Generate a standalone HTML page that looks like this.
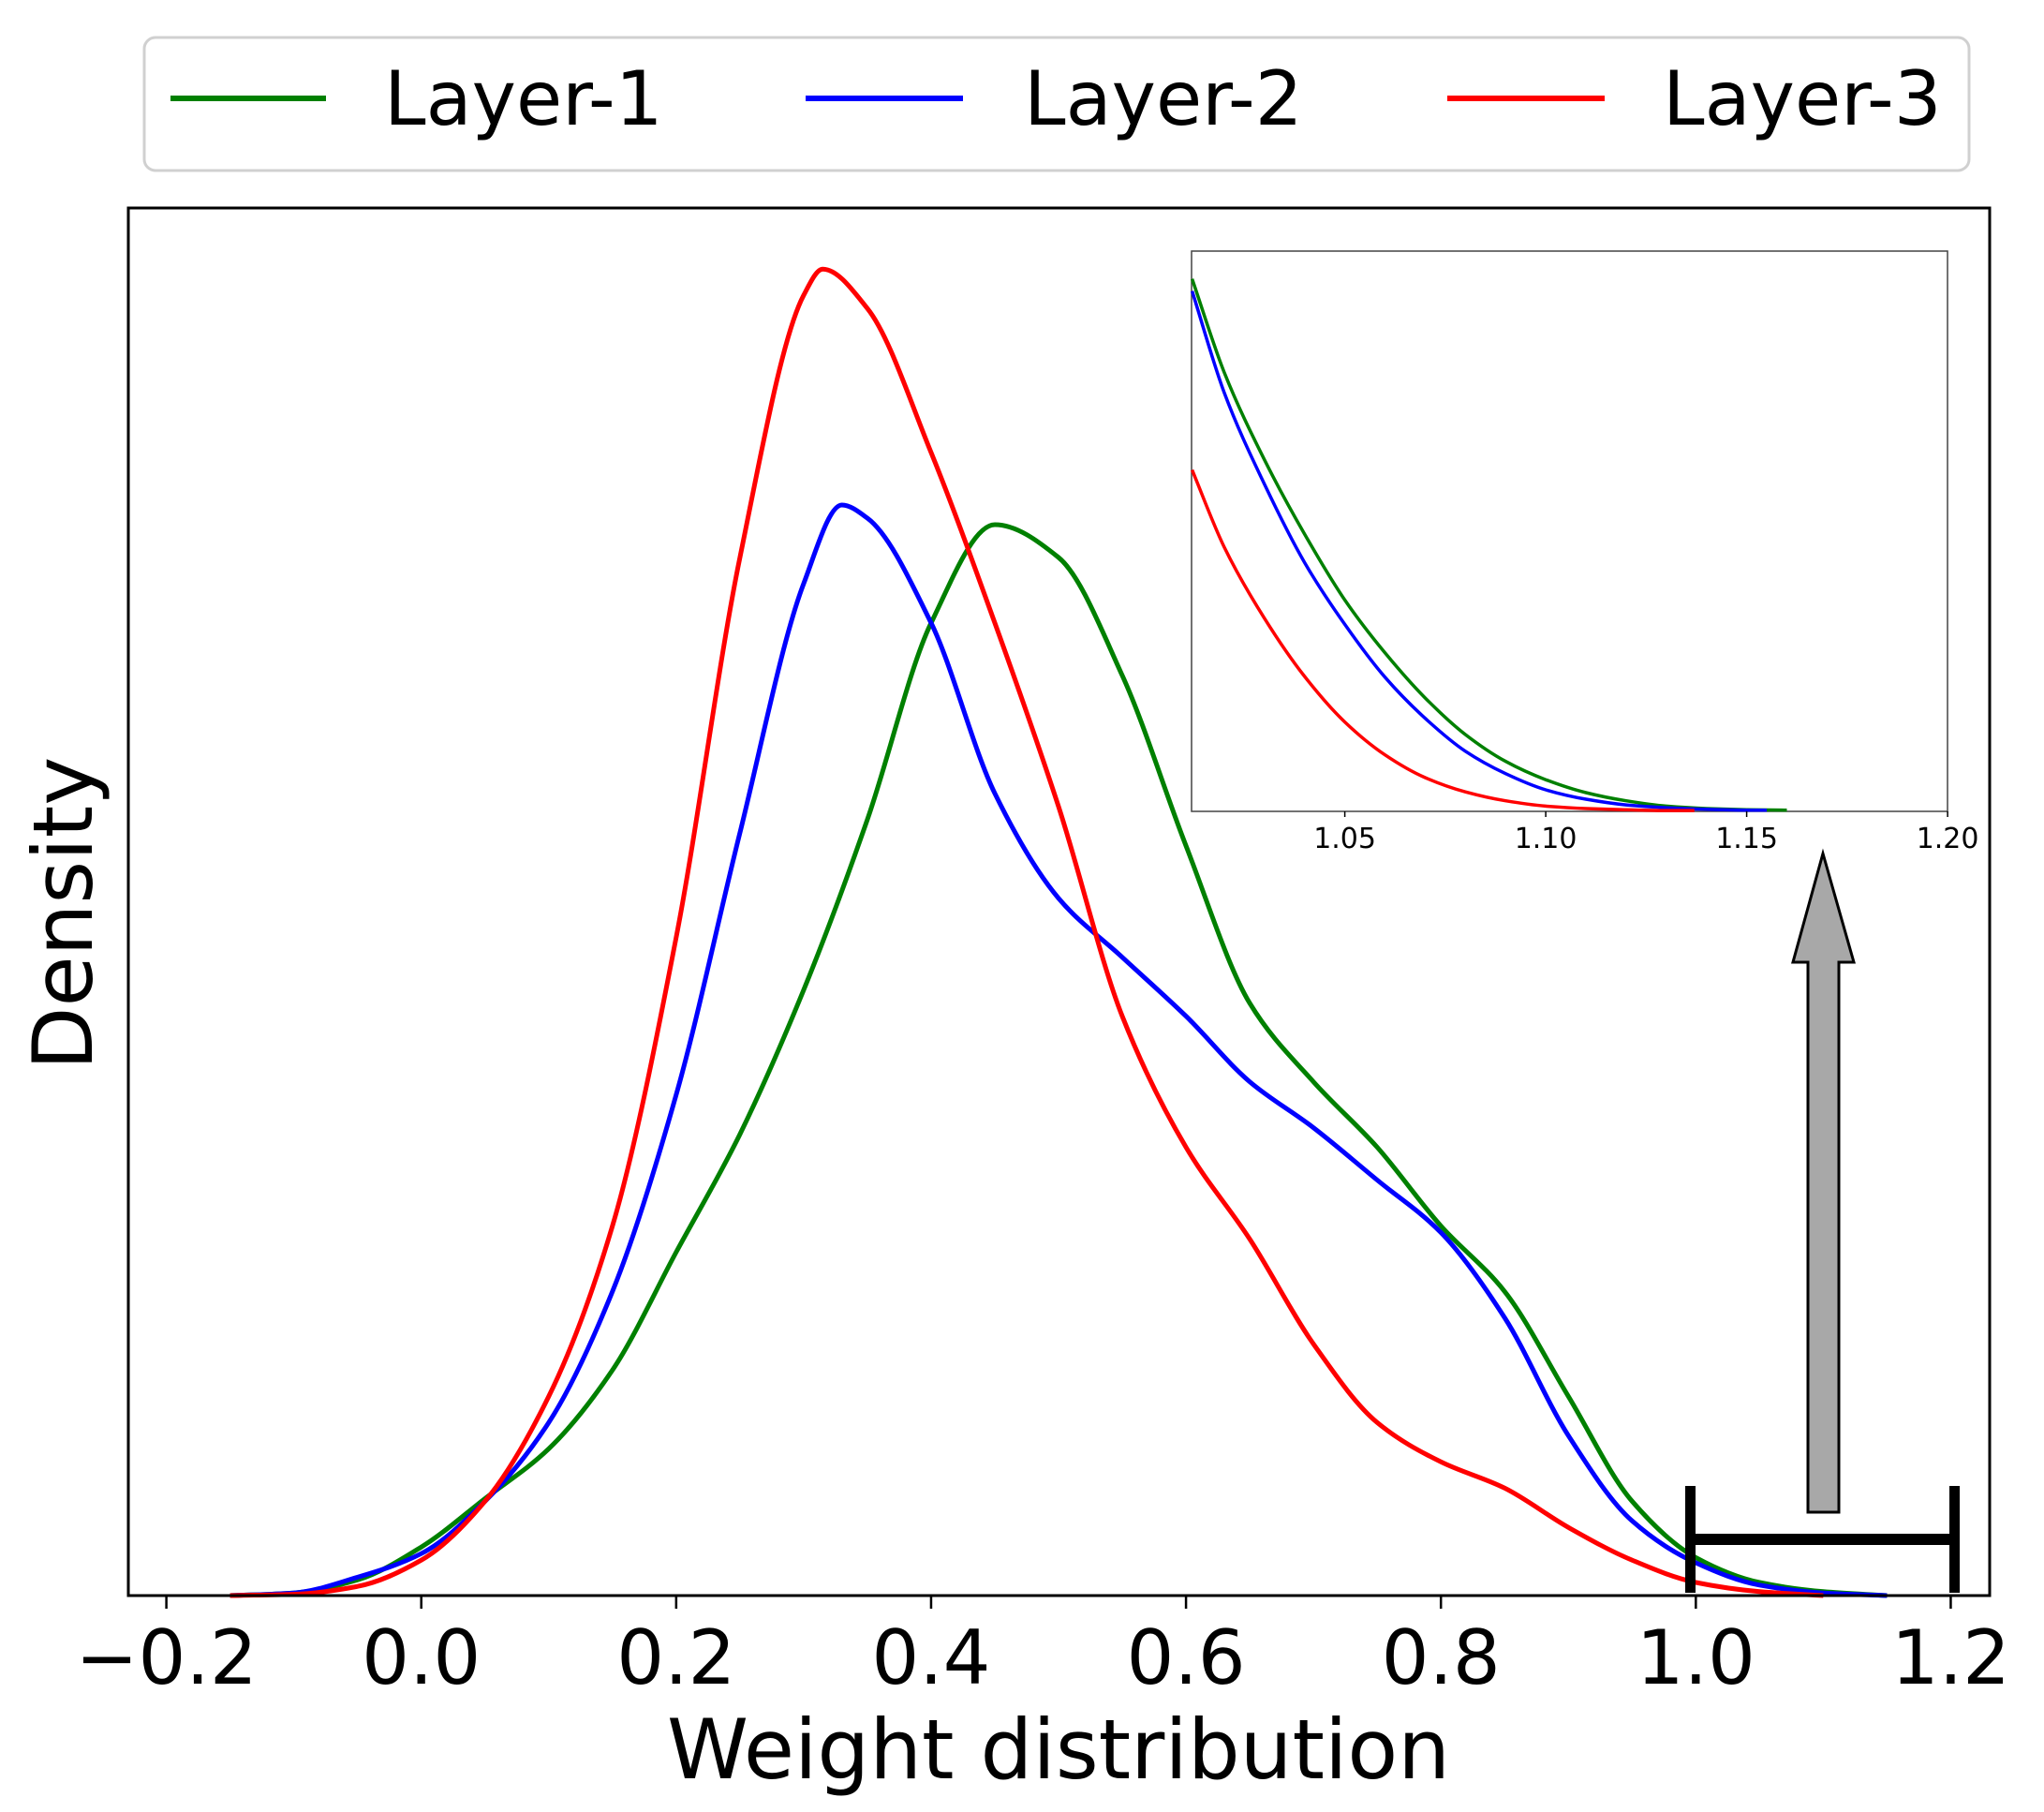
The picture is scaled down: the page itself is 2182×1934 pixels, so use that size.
<!DOCTYPE html>
<html><head><meta charset="utf-8"><style>
html,body{margin:0;padding:0;background:#fff;}
svg{display:block;font-family:"DejaVu Sans","Liberation Sans",sans-serif;}
</style></head><body>
<svg id="chart" width="2182" height="1934" viewBox="0 0 2182 1934" xmlns="http://www.w3.org/2000/svg">
<rect x="0" y="0" width="2182" height="1934" fill="#fff"/>
<g>
 <rect x="154" y="40" width="1948" height="142" rx="12" fill="#fff" stroke="#d0d0d0" stroke-width="3"/>
 <g><line x1="182" y1="105" x2="348" y2="105" stroke="#008000" stroke-width="6"/><text x="410" y="133" font-size="80">Layer-1</text></g>
 <g><line x1="860" y1="105" x2="1028" y2="105" stroke="#0000ff" stroke-width="6"/><text x="1093" y="133" font-size="80">Layer-2</text></g>
 <g><line x1="1545" y1="105" x2="1713" y2="105" stroke="#ff0000" stroke-width="6"/><text x="1775" y="133" font-size="80">Layer-3</text></g>
</g>
<g id="main"></g>
<rect x="137" y="222" width="1987" height="1481" fill="none" stroke="#000" stroke-width="3"/>
<g id="xticks"></g>
<text x="1130" y="1898" font-size="88" text-anchor="middle">Weight distribution</text>
<text transform="translate(98,975) rotate(-90)" font-size="88" text-anchor="middle">Density</text>
<g id="inset"></g>
<g>
 <rect x="1799" y="1586" width="11" height="114" fill="#000"/>
 <rect x="2081" y="1586" width="11" height="114" fill="#000"/>
 <rect x="1804" y="1637" width="283" height="12" fill="#000"/>
</g>
<polygon points="1946,911 1979,1027 1963,1027 1963,1614 1930,1614 1930,1027 1914,1027" fill="#a8a8a8" stroke="#000" stroke-width="3"/>
</svg>
<script>
// Main chart data
const xTickVals=[-0.2,0.0,0.2,0.4,0.6,0.8,1.0,1.2];
const xTickLabels=["\u22120.2","0.0","0.2","0.4","0.6","0.8","1.0","1.2"];
const layer1X=[-0.15,-0.1,-0.05,0,0.05,0.1,0.15,0.2,0.25,0.3,0.35,0.4,0.45,0.5,0.55,0.6,0.65,0.7,0.75,0.8,0.85,0.9,0.95,1.0,1.05,1.1,1.15];
const layer1Y=[0,0.02,0.12,0.37,0.74,1.12,1.72,2.62,3.52,4.62,5.92,7.42,8.17,7.92,7.02,5.72,4.52,3.92,3.42,2.82,2.32,1.52,0.72,0.29,0.10,0.03,0];
const layer2X=[-0.15,-0.1,-0.05,0,0.05,0.1,0.15,0.2,0.25,0.3,0.33,0.35,0.4,0.45,0.5,0.55,0.6,0.65,0.7,0.75,0.8,0.85,0.9,0.95,1.0,1.05,1.1,1.15];
const layer2Y=[0,0.02,0.14,0.32,0.72,1.32,2.32,3.82,5.82,7.72,8.32,8.22,7.42,6.12,5.32,4.87,4.42,3.92,3.57,3.17,2.77,2.12,1.22,0.57,0.25,0.08,0.02,0];
const layer3X=[-0.15,-0.1,-0.05,0,0.05,0.1,0.15,0.2,0.25,0.3,0.315,0.35,0.4,0.45,0.5,0.55,0.6,0.65,0.7,0.75,0.8,0.85,0.9,0.95,1.0,1.05,1.1];
const layer3Y=[0,0.01,0.07,0.27,0.72,1.52,2.82,5.02,7.92,9.92,10.12,9.82,8.72,7.42,6.02,4.42,3.42,2.72,1.92,1.32,1.02,0.82,0.52,0.27,0.10,0.03,0];
// Inset data
const insetTickVals=[1.05,1.10,1.15,1.20];
const insetTickLabels=["1.05","1.10","1.15","1.20"];
const inset1X=[1.012,1.02,1.03,1.04,1.05,1.06,1.07,1.08,1.09,1.10,1.11,1.12,1.13,1.14,1.15,1.16];
const inset1Y=[1.31,1.08,0.865,0.682,0.52,0.39,0.279,0.189,0.123,0.078,0.046,0.026,0.013,0.007,0.004,0.003];
const inset2X=[1.012,1.02,1.03,1.04,1.05,1.06,1.07,1.08,1.09,1.10,1.11,1.12,1.13,1.14,1.15,1.155];
const inset2Y=[1.28,1.03,0.805,0.612,0.46,0.33,0.229,0.148,0.093,0.053,0.030,0.016,0.009,0.005,0.003,0.003];
const inset3X=[1.012,1.02,1.03,1.04,1.05,1.06,1.07,1.08,1.09,1.10,1.11,1.12,1.13,1.137];
const inset3Y=[0.84,0.65,0.475,0.332,0.22,0.139,0.083,0.048,0.026,0.013,0.007,0.004,0.002,0.002];

const NS="http://www.w3.org/2000/svg";
const xS=v=>177.6+(v+0.2)*1360.6;
const yS=d=>1703-d*139.9;
const ixS=v=>1264+(v-1.01)*4290;
const iyS=d=>866-d*(600/1.383);

// monotone cubic (Fritsch-Carlson) path in screen space
function smoothPath(pts){
  const n=pts.length,dx=[],m=[],t=new Array(n);
  for(let i=0;i<n-1;i++){dx.push(pts[i+1][0]-pts[i][0]);m.push((pts[i+1][1]-pts[i][1])/dx[i]);}
  t[0]=m[0];t[n-1]=m[n-2];
  for(let i=1;i<n-1;i++){
    if(m[i-1]*m[i]<=0)t[i]=0;
    else{const w1=2*dx[i]+dx[i-1],w2=dx[i]+2*dx[i-1];t[i]=(w1+w2)/(w1/m[i-1]+w2/m[i]);}
  }
  let d="M"+pts[0][0].toFixed(1)+","+pts[0][1].toFixed(1);
  for(let i=0;i<n-1;i++){
    const h=dx[i]/3;
    d+=" C"+(pts[i][0]+h).toFixed(1)+","+(pts[i][1]+t[i]*h).toFixed(1)+" "+(pts[i+1][0]-h).toFixed(1)+","+(pts[i+1][1]-t[i+1]*h).toFixed(1)+" "+pts[i+1][0].toFixed(1)+","+pts[i+1][1].toFixed(1);
  }
  return d;
}
const main=document.getElementById("main");
function addCurve(parent,xs,ys,fx,fy,color,w,name){
  const p=document.createElementNS(NS,"path");
  p.setAttribute("d",smoothPath(xs.map((x,i)=>[fx(x),fy(ys[i])])));
  p.setAttribute("fill","none");p.setAttribute("stroke",color);p.setAttribute("stroke-width",w);
  p.setAttribute("stroke-linejoin","round");
  
  
  parent.appendChild(p);
}
addCurve(main,layer1X,layer1Y,xS,yS,"#008000",5,"layer-1-curve");
addCurve(main,layer2X,layer2Y,xS,yS,"#0000ff",5,"layer-2-curve");
addCurve(main,layer3X,layer3Y,xS,yS,"#ff0000",5,"layer-3-curve");

const xt=document.getElementById("xticks");
xTickVals.forEach((v,i)=>{
  const l=document.createElementNS(NS,"line");
  l.setAttribute("x1",xS(v));l.setAttribute("x2",xS(v));l.setAttribute("y1",1703);l.setAttribute("y2",1717);
  l.setAttribute("stroke","#000");l.setAttribute("stroke-width",2.5);
  
  
  xt.appendChild(l);
  const t=document.createElementNS(NS,"text");
  t.setAttribute("x",xS(v));t.setAttribute("y",1797);t.setAttribute("font-size",80);t.setAttribute("text-anchor","middle");
  t.textContent=xTickLabels[i];
  
  
  xt.appendChild(t);
});

const inset=document.getElementById("inset");
const bg=document.createElementNS(NS,"rect");
bg.setAttribute("x",1272);bg.setAttribute("y",268);bg.setAttribute("width",807);bg.setAttribute("height",598);
bg.setAttribute("fill","#fff");bg.setAttribute("stroke","#444");bg.setAttribute("stroke-width",1.5);


inset.appendChild(bg);
addCurve(inset,inset1X,inset1Y,ixS,iyS,"#008000",3.5,"inset-layer-1-curve");
addCurve(inset,inset2X,inset2Y,ixS,iyS,"#0000ff",3.5,"inset-layer-2-curve");
addCurve(inset,inset3X,inset3Y,ixS,iyS,"#ff0000",3.5,"inset-layer-3-curve");
insetTickVals.forEach((v,i)=>{
  const l=document.createElementNS(NS,"line");
  l.setAttribute("x1",ixS(v));l.setAttribute("x2",ixS(v));l.setAttribute("y1",866);l.setAttribute("y2",872);
  l.setAttribute("stroke","#000");l.setAttribute("stroke-width",1.5);
  
  
  inset.appendChild(l);
  const t=document.createElementNS(NS,"text");
  t.setAttribute("x",ixS(v));t.setAttribute("y",905);t.setAttribute("font-size",30);t.setAttribute("text-anchor","middle");
  t.textContent=insetTickLabels[i];
  
  
  inset.appendChild(t);
});
</script>
</body></html>
